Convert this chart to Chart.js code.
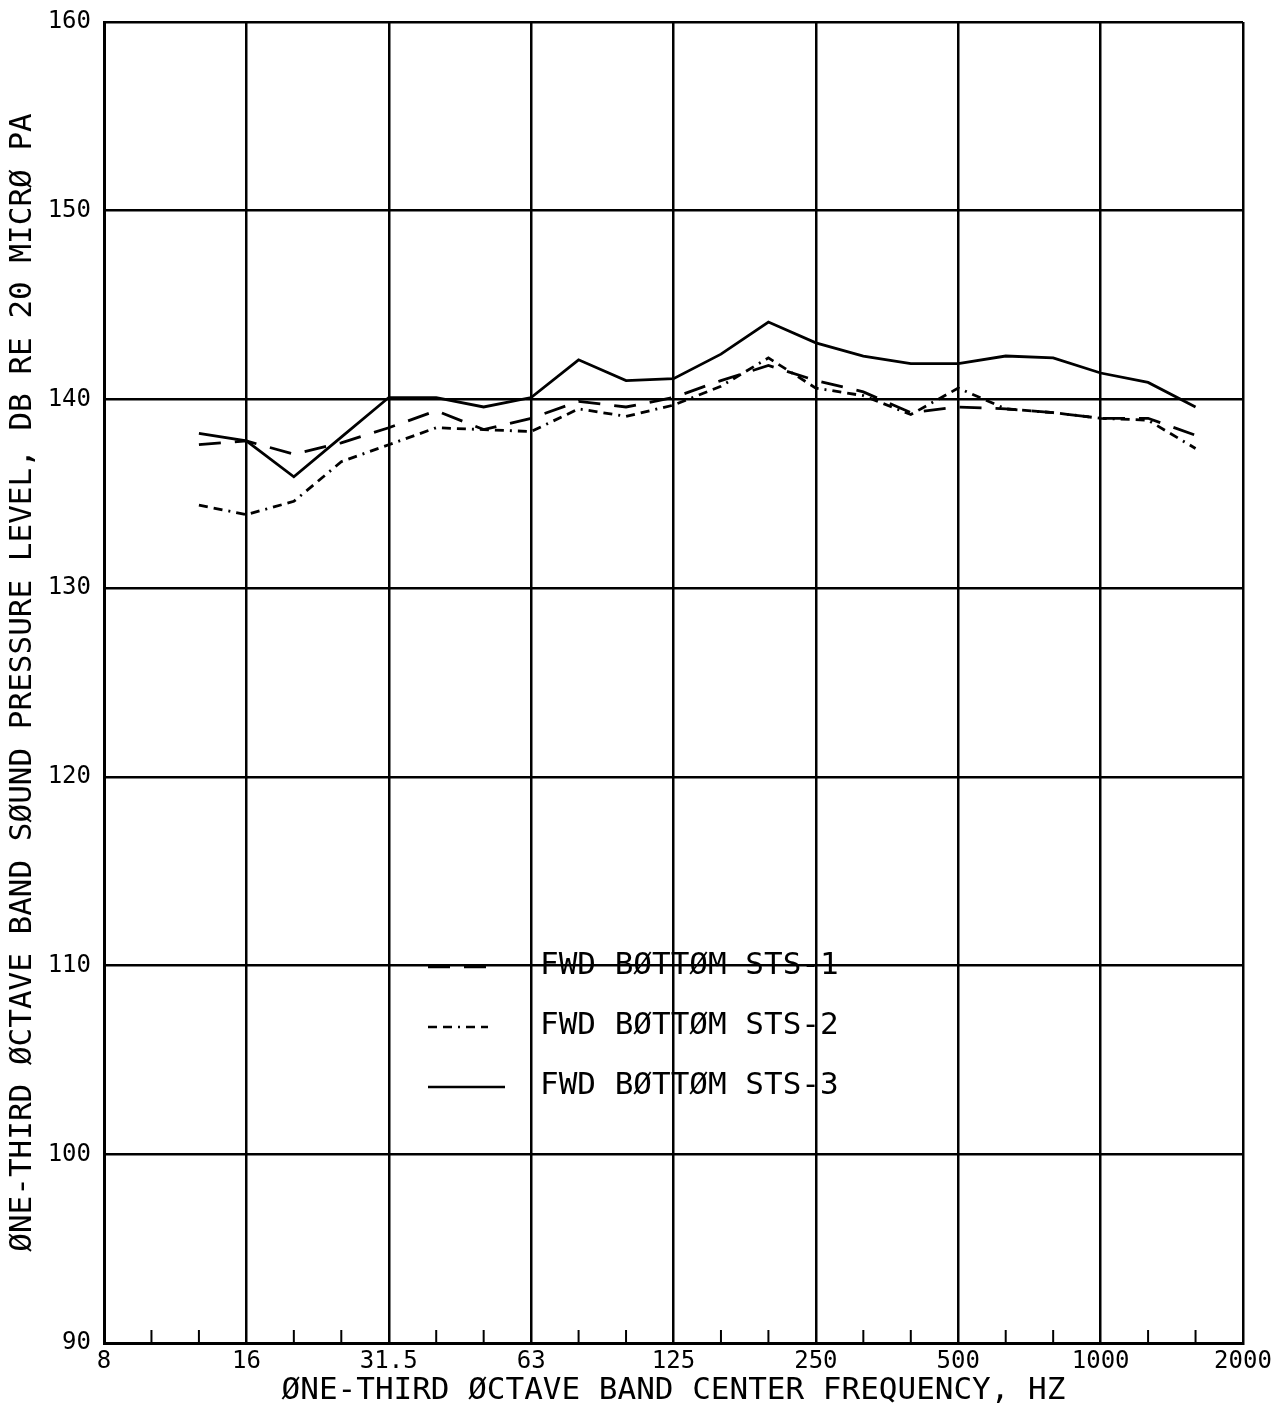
<!DOCTYPE html>
<html>
<head>
<meta charset="utf-8">
<title>One-third octave band SPL</title>
<script src="https://cdn.jsdelivr.net/npm/chart.js@4.4.1/dist/chart.umd.min.js"></script>
<style>
  html, body { margin: 0; padding: 0; background: #fff; }
  #plot { display: block; }
</style>
</head>
<body>
<canvas id="plot" width="1287" height="1405"></canvas>
<script>
// one-third octave band centre frequencies, Hz (octaves every third band)
const bands = ['8', '10', '12.5', '16', '20', '25', '31.5', '40', '50', '63', '80', '100',
  '125', '160', '200', '250', '315', '400', '500', '630', '800', '1000', '1250', '1600', '2000'];

// band levels, dB re 20 micro Pa
const sts1 = [null, null, 137.6, 137.8, 137.1, 137.7, 138.5, 139.4, 138.4, 139.0, 139.9, 139.6,
  140.1, 141.0, 141.8, 141.0, 140.4, 139.3, 139.6, 139.5, 139.3, 139.0, 139.0, 138.1, null];
const sts2 = [null, null, 134.4, 133.9, 134.6, 136.7, 137.6, 138.5, 138.4, 138.3, 139.5, 139.1,
  139.7, 140.7, 142.2, 140.6, 140.2, 139.2, 140.6, 139.5, 139.3, 139.0, 138.9, 137.4, null];
const sts3 = [null, null, 138.2, 137.8, 135.9, 138.0, 140.1, 140.1, 139.6, 140.1, 142.1, 141.0,
  141.1, 142.4, 144.1, 143.0, 142.3, 141.9, 141.9, 142.3, 142.2, 141.4, 140.9, 139.6, null];

const seriesNames = ['FWD BØTTØM STS-1', 'FWD BØTTØM STS-2', 'FWD BØTTØM STS-3'];

const FONT = 'DejaVu Sans Mono';

// short marks at the in-between third-octave bands along the bottom axis
const minorTicks = {
  id: 'minorTicks',
  beforeDatasetsDraw(chart) {
    const xs = chart.scales.x, area = chart.chartArea, ctx = chart.ctx;
    ctx.save();
    ctx.strokeStyle = '#000';
    ctx.lineWidth = 2;
    bands.forEach((b, i) => {
      if (i % 3 === 0) return;
      const px = xs.getPixelForValue(i);
      ctx.beginPath();
      ctx.moveTo(px, area.bottom);
      ctx.lineTo(px, area.bottom - 13);
      ctx.stroke();
    });
    ctx.restore();
  }
};

// key drawn inside the plot, line sample then name
const plotKey = {
  id: 'plotKey',
  afterDatasetsDraw(chart) {
    const ctx = chart.ctx, a = chart.chartArea;
    const lens = [60, 60, 77];
    ctx.save();
    ctx.fillStyle = '#000';
    ctx.strokeStyle = '#000';
    ctx.font = '31px "' + FONT + '"';
    ctx.textBaseline = 'middle';
    chart.data.datasets.forEach((ds, i) => {
      const y = a.top + 945 + i * 60;
      const x0 = a.left + 324;
      ctx.lineWidth = 2.5;
      ctx.setLineDash(ds.borderDash || []);
      ctx.beginPath();
      ctx.moveTo(x0, y);
      ctx.lineTo(x0 + lens[i], y);
      ctx.stroke();
      ctx.setLineDash([]);
      ctx.fillText(ds.label, a.left + 436, y - 1);
    });
    ctx.restore();
  }
};

const line = (label, data, dash) => ({
  label, data,
  borderColor: '#000',
  borderWidth: 2.8,
  borderDash: dash,
  pointRadius: 0,
  tension: 0,
  fill: false,
  spanGaps: false
});

new Chart(document.getElementById('plot'), {
  type: 'line',
  plugins: [minorTicks, plotKey],
  data: {
    labels: bands,
    datasets: [
      line(seriesNames[0], sts1, [22, 14]),
      line(seriesNames[1], sts2, [9, 6, 9, 6, 2, 6]),
      line(seriesNames[2], sts3, [])
    ]
  },
  options: {
    responsive: false,
    animation: false,
    devicePixelRatio: 1,
    layout: { padding: { top: 22, right: 44, left: 0, bottom: 0 } },
    plugins: {
      legend: { display: false },
      tooltip: { enabled: false }
    },
    scales: {
      x: {
        type: 'category',
        offset: false,
        afterFit(scale) {
          scale.height = 62;
          scale.paddingLeft = 0;
          scale.paddingRight = 0;
        },
        border: { display: true, color: '#000', width: 3 },
        grid: {
          color: (c) => (c.index % 3 === 0 ? '#000' : 'rgba(0,0,0,0)'),
          lineWidth: 2.5,
          drawTicks: false
        },
        ticks: {
          autoSkip: false,
          maxRotation: 0,
          padding: 4,
          color: '#000',
          font: { family: FONT, size: 24 },
          callback(v, i) { return i % 3 === 0 ? bands[i] : ''; }
        },
        title: {
          display: true,
          text: 'ØNE-THIRD ØCTAVE BAND CENTER FREQUENCY, HZ',
          color: '#000',
          font: { family: FONT, size: 31 },
          padding: { top: 0, bottom: -5 }
        }
      },
      y: {
        min: 90,
        max: 160,
        afterFit(scale) {
          scale.width = 104;
          scale.paddingTop = 0;
          scale.paddingBottom = 0;
        },
        border: { display: true, color: '#000', width: 3 },
        grid: { color: '#000', lineWidth: 2.5, drawTicks: false },
        ticks: {
          stepSize: 10,
          padding: 13,
          color: '#000',
          font: { family: FONT, size: 24 }
        },
        title: {
          display: true,
          text: 'ØNE-THIRD ØCTAVE BAND SØUND PRESSURE LEVEL, DB RE 20 MICRØ PA',
          color: '#000',
          font: { family: FONT, size: 31 },
          padding: { top: 4, bottom: 0 }
        }
      }
    }
  }
});
</script>
</body>
</html>
